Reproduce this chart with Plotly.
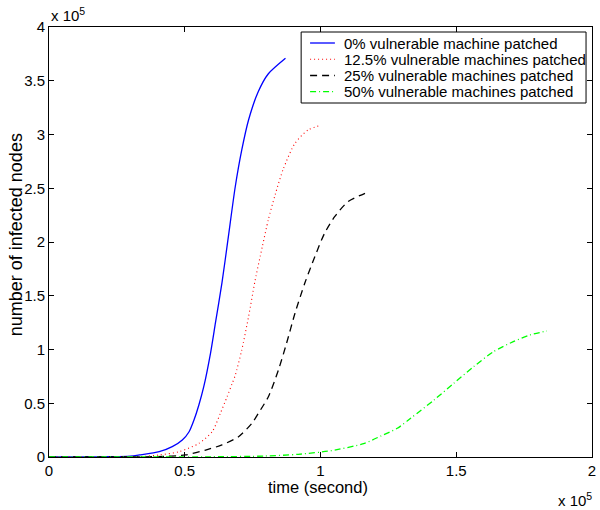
import plotly.graph_objects as go

# time in units of 1e5 seconds, infected nodes in units of 1e5
t_p0 = [0.0, 0.1, 0.2, 0.3, 0.333, 0.406, 0.454, 0.491, 0.516, 0.534, 0.552, 0.570, 0.595, 0.613, 0.637, 0.659, 0.686, 0.710, 0.735, 0.771, 0.808, 0.871]
n_p0 = [0.0, 0.0, 0.002, 0.008, 0.019, 0.049, 0.096, 0.158, 0.235, 0.344, 0.484, 0.654, 0.967, 1.247, 1.619, 2.019, 2.514, 2.856, 3.135, 3.400, 3.565, 3.709]

t_p125 = [0.0, 0.1, 0.2, 0.3, 0.35, 0.406, 0.479, 0.552, 0.601, 0.631, 0.656, 0.674, 0.686, 0.710, 0.735, 0.759, 0.786, 0.808, 0.833, 0.863, 0.906, 0.954, 1.001]
n_p125 = [0.0, 0.0, 0.0, 0.002, 0.006, 0.019, 0.049, 0.127, 0.235, 0.406, 0.561, 0.679, 0.760, 0.995, 1.305, 1.640, 1.960, 2.210, 2.440, 2.680, 2.918, 3.042, 3.086]

t_p25 = [0.0, 0.1, 0.2, 0.3, 0.4, 0.503, 0.577, 0.637, 0.698, 0.747, 0.771, 0.808, 0.845, 0.875, 0.906, 0.942, 0.979, 1.015, 1.052, 1.101, 1.164]
n_p25 = [0.0, 0.0, 0.0, 0.0, 0.004, 0.019, 0.065, 0.112, 0.189, 0.313, 0.406, 0.561, 0.809, 1.058, 1.337, 1.616, 1.863, 2.081, 2.235, 2.375, 2.453]

t_p50 = [0.0, 0.2, 0.4, 0.6, 0.796, 0.918, 1.040, 1.162, 1.222, 1.283, 1.332, 1.418, 1.491, 1.564, 1.637, 1.710, 1.771, 1.834]
n_p50 = [0.0, 0.0, 0.0, 0.002, 0.009, 0.025, 0.059, 0.127, 0.195, 0.267, 0.360, 0.530, 0.686, 0.840, 0.980, 1.073, 1.135, 1.172]

x_ticks = [0, 0.5, 1, 1.5, 2]
x_ticklabels = ["0", "0.5", "1", "1.5", "2"]
y_ticks = [0, 0.5, 1, 1.5, 2, 2.5, 3, 3.5, 4]
y_ticklabels = ["0", "0.5", "1", "1.5", "2", "2.5", "3", "3.5", "4"]

names = ["0% vulnerable machine patched",
         "12.5% vulnerable machines patched",
         "25% vulnerable machines patched",
         "50% vulnerable machines patched"]
colors = ["#0000FF", "#FF0000", "#000000", "#00FF00"]
dashes = ["solid", "1px,3px", "7px,5px", "6px,3px,1px,3px"]
widths = [1.3, 1.1, 1.3, 1.3]
series_t = [t_p0, t_p125, t_p25, t_p50]
series_n = [n_p0, n_p125, n_p25, n_p50]

FONT = "Liberation Sans, Arial, Helvetica, sans-serif"

fig = go.Figure()
for t, n, name, c, d, w in zip(series_t, series_n, names, colors, dashes, widths):
    fig.add_trace(go.Scatter(x=t, y=n, mode="lines", name=name, showlegend=False,
                             line=dict(color=c, width=w, dash=d, shape="spline", smoothing=0.7)))

axis_common = dict(showline=True, linecolor="black", linewidth=1, mirror="ticks",
                   ticks="inside", ticklen=5, tickcolor="black", tickwidth=1,
                   showgrid=False, zeroline=False, ticklabeloverflow="allow",
                   tickfont=dict(family=FONT, size=15, color="black"))

# plot area in pixels: x 49..596, y 27..457
L, R, T, B = 49, 596, 27, 457
def px(xp):
    return (xp - L) / (R - L)
def py(yp):
    return (B - yp) / (B - T)

shapes = [dict(type="rect", xref="paper", yref="paper",
               x0=px(303), x1=px(590), y0=py(103), y1=py(32),
               line=dict(color="black", width=1), fillcolor="white", layer="above")]
annotations = []
row_y = [43, 59.3, 75.5, 91.7]
for i in range(4):
    shapes.append(dict(type="line", xref="paper", yref="paper",
                       x0=px(312), x1=px(337), y0=py(row_y[i]), y1=py(row_y[i]),
                       line=dict(color=colors[i], width=widths[i], dash=dashes[i]), layer="above"))
    annotations.append(dict(text=names[i], xref="paper", yref="paper", x=px(344), y=py(row_y[i]),
                            xanchor="left", yanchor="middle", showarrow=False,
                            font=dict(family=FONT, size=15, color="black")))

annotations += [
    dict(text="time (second)", xref="paper", yref="paper", x=px(320), y=py(487),
         xanchor="center", yanchor="middle", showarrow=False,
         font=dict(family=FONT, size=16.5)),
    dict(text="number of infected nodes", xref="paper", yref="paper", x=px(16), y=py(235),
         xanchor="center", yanchor="middle", textangle=-90, showarrow=False,
         font=dict(family=FONT, size=18)),
    dict(text="x 10<sup>5</sup>", xref="paper", yref="paper", x=px(49), y=py(14),
         xanchor="left", yanchor="middle", showarrow=False,
         font=dict(family=FONT, size=15)),
    dict(text="x 10<sup>5</sup>", xref="paper", yref="paper", x=px(598), y=py(499),
         xanchor="right", yanchor="middle", showarrow=False,
         font=dict(family=FONT, size=15)),
]

fig.update_layout(
    width=600, height=510,
    margin=dict(l=L, r=600 - R, t=T, b=510 - B),
    paper_bgcolor="white", plot_bgcolor="white",
    font=dict(family=FONT, size=12, color="black"),
    xaxis=dict(range=[0, 2], tickvals=x_ticks, ticktext=x_ticklabels, **axis_common),
    yaxis=dict(range=[0, 4], tickvals=y_ticks, ticktext=y_ticklabels, **axis_common),
    showlegend=False,
    shapes=shapes,
    annotations=annotations,
)

fig.write_html("out.html", config={"displayModeBar": False},
               post_script="document.body.style.margin='0px';")
